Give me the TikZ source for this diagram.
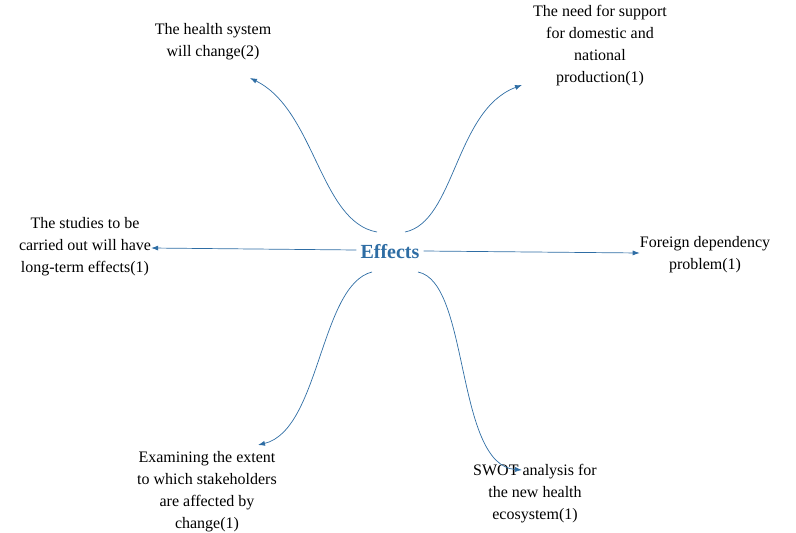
\documentclass[tikz,border=0pt]{standalone}
\usepackage{fontspec}
\setmainfont{Liberation Serif}
\usetikzlibrary{arrows.meta}
\definecolor{eblue}{HTML}{2E6DA4}
\begin{document}
\begin{tikzpicture}[x=1pt,y=-1pt,
  lbl/.style={align=center,font=\fontsize{16}{22}\selectfont,inner sep=0pt},
  arr/.style={draw=eblue,line width=0.7pt,-{Latex[length=7pt,width=5pt]}}]
\useasboundingbox (0,0) rectangle (796,533);
\node[font=\fontsize{20}{24}\selectfont\bfseries,text=eblue,inner sep=0pt] (c) at (390,252) {Effects};
\node[lbl] (ul) at (213,42) {The health system\\will change(2)};
\node[lbl] (ur) at (600,46) {The need for support\\for domestic and\\national\\production(1)};
\node[lbl] (l) at (85,247) {The studies to be\\carried out will have\\long-term effects(1)};
\node[lbl] (r) at (705,255) {Foreign dependency\\problem(1)};
\node[lbl] (dl) at (207,492) {Examining the extent\\to which stakeholders\\are affected by\\change(1)};
\node[lbl] (dr) at (535,494) {SWOT analysis for\\the new health\\ecosystem(1)};
\coordinate (a1) at (250,78);
\coordinate (a2) at (522,85);
\coordinate (a3) at (258,445);
\coordinate (a4) at (522,470);
\coordinate (s1) at (377,232);
\coordinate (s2) at (405,232);
\coordinate (s3) at (372,272);
\coordinate (s4) at (418,272);
\draw[arr] (c.west) ++(-4,-2) -- (l.east |- 0,248);
\draw[arr] (c.east) ++(4,-1) -- (r.west |- 0,253);
\draw[arr] (s1) .. controls (320,222) and (315,110) .. (a1);
\draw[arr] (s2) .. controls (455,222) and (455,110) .. (a2);
\draw[arr] (s3) .. controls (320,285) and (320,430) .. (a3);
\draw[arr] (s4) .. controls (470,282) and (455,465) .. (a4);
\end{tikzpicture}
\end{document}
